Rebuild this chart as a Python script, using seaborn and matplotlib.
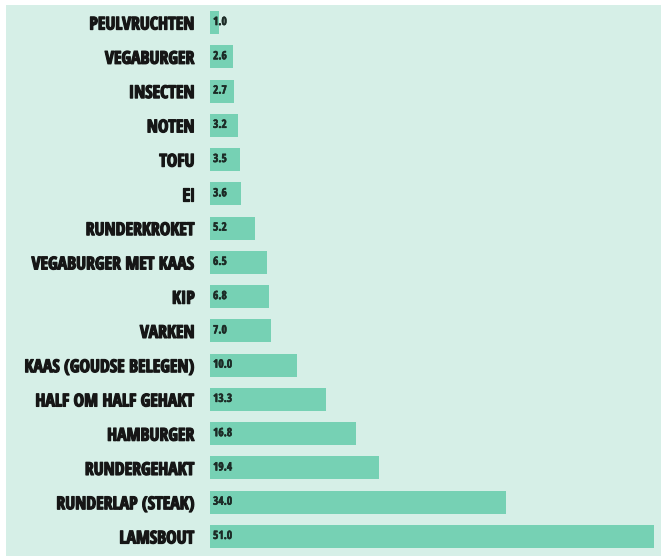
import matplotlib
matplotlib.use("Agg")
import matplotlib.pyplot as plt
from matplotlib.patches import Rectangle
from matplotlib import font_manager as fm
import matplotlib.patheffects as pe
from matplotlib.textpath import TextToPath
import seaborn as sns
import pandas as pd

categories = ["PEULVRUCHTEN", "VEGABURGER", "INSECTEN", "NOTEN", "TOFU", "EI",
              "RUNDERKROKET", "VEGABURGER MET KAAS", "KIP", "VARKEN",
              "KAAS (GOUDSE BELEGEN)", "HALF OM HALF GEHAKT", "HAMBURGER",
              "RUNDERGEHAKT", "RUNDERLAP (STEAK)", "LAMSBOUT"]
values = [1.0, 2.6, 2.7, 3.2, 3.5, 3.6, 5.2, 6.5, 6.8, 7.0, 10.0, 13.3, 16.8, 19.4, 34.0, 51.0]
value_labels = ["1.0", "2.6", "2.7", "3.2", "3.5", "3.6", "5.2", "6.5", "6.8", "7.0",
                "10.0", "13.3", "16.8", "19.4", "34.0", "51.0"]

df = pd.DataFrame({"cat": categories, "val": values})

sns.set_style("white")
BG = "#d6efe7"
BAR = "#76d1b4"
TXT = "#161616"


def _wnum(w):
    if isinstance(w, (int, float)):
        return w
    return {"bold": 700, "heavy": 800, "black": 900, "semibold": 600,
            "demibold": 600, "extra bold": 800, "ultrabold": 800}.get(str(w).lower(), 400)


ALLOWED = ("DejaVu Sans", "Liberation Sans", "Noto Sans", "Roboto", "Open Sans", "Lato", "Inter")
BANNED = ("CJK", "Mono", "Serif", "Symbol", "Math", "Emoji", "Display")

t2p = TextToPath()
probe = "KAAS (GOUDSE BELEGEN)"
best_fp, best_ratio = None, -1
for f in fm.fontManager.ttflist:
    if "italic" in f.style or "oblique" in f.style:
        continue
    if _wnum(f.weight) < 700:
        continue
    if not f.name.startswith(ALLOWED) or any(k in f.name for k in BANNED):
        continue
    if f.name.startswith("Noto Sans") and f.name not in ("Noto Sans",):
        continue
    try:
        fp = fm.FontProperties(fname=f.fname)
        w, h, d = t2p.get_text_width_height_descent(probe, fp, ismath=False)
        wh, hh, dh = t2p.get_text_width_height_descent("H", fp, ismath=False)
        ratio = hh / w
    except Exception:
        continue
    if ratio > best_ratio:
        best_ratio, best_fp = ratio, fp
label_fp = best_fp or fm.FontProperties(family="DejaVu Sans", weight="bold")

fig = plt.figure(figsize=(6.61, 5.56), dpi=100, facecolor="white")
bg = Rectangle((6 / 661, 0), 1, (556 - 5) / 556, transform=fig.transFigure,
               facecolor=BG, edgecolor="none", zorder=-10)
fig.patches.append(bg)
ax = fig.add_axes([210 / 661, 2.4 / 556, 444 / 661, 548.2 / 556])
ax.set_facecolor("none")
ax.set_zorder(5)

sns.barplot(data=df, x="val", y="cat", orient="h", color=BAR, width=0.67,
            saturation=1, linewidth=0, ax=ax, order=categories)

ax.set_xlim(0, 51)
ax.set_ylim(len(categories) - 0.5, -0.5)
ax.set_xlabel("")
ax.set_ylabel("")
ax.set_xticks([])
for s in ax.spines.values():
    s.set_visible(False)

ax.tick_params(axis="y", length=0, pad=11)
ax.set_yticks(range(len(categories)))
ticklabels = ax.set_yticklabels(categories, color=TXT)
for t in ticklabels:
    t.set_fontproperties(label_fp)
    t.set_fontsize(14)
    t.set_path_effects([pe.withStroke(linewidth=0.9, foreground=TXT)])

vals = []
for i, lab in enumerate(value_labels):
    v = ax.annotate(lab, xy=(0, i), xytext=(2.2, 0), textcoords="offset points",
                    ha="left", va="center", color="#1c2b26")
    v.set_fontproperties(label_fp)
    v.set_fontsize(8)
    v.set_path_effects([pe.withStroke(linewidth=0.4, foreground="#1c2b26")])
    vals.append(v)

# fit text sizes to the reference widths
fig.canvas.draw()
r = fig.canvas.get_renderer()
wmax = max(t.get_window_extent(r).width for t in ticklabels)
lsize = 14 * 170.0 / wmax
for t in ticklabels:
    t.set_fontsize(lsize)
wv = vals[14].get_window_extent(r).width
vsize = 8 * 19.0 / wv
for v in vals:
    v.set_fontsize(vsize)

fig.savefig("out.png", dpi=100, facecolor="white")
